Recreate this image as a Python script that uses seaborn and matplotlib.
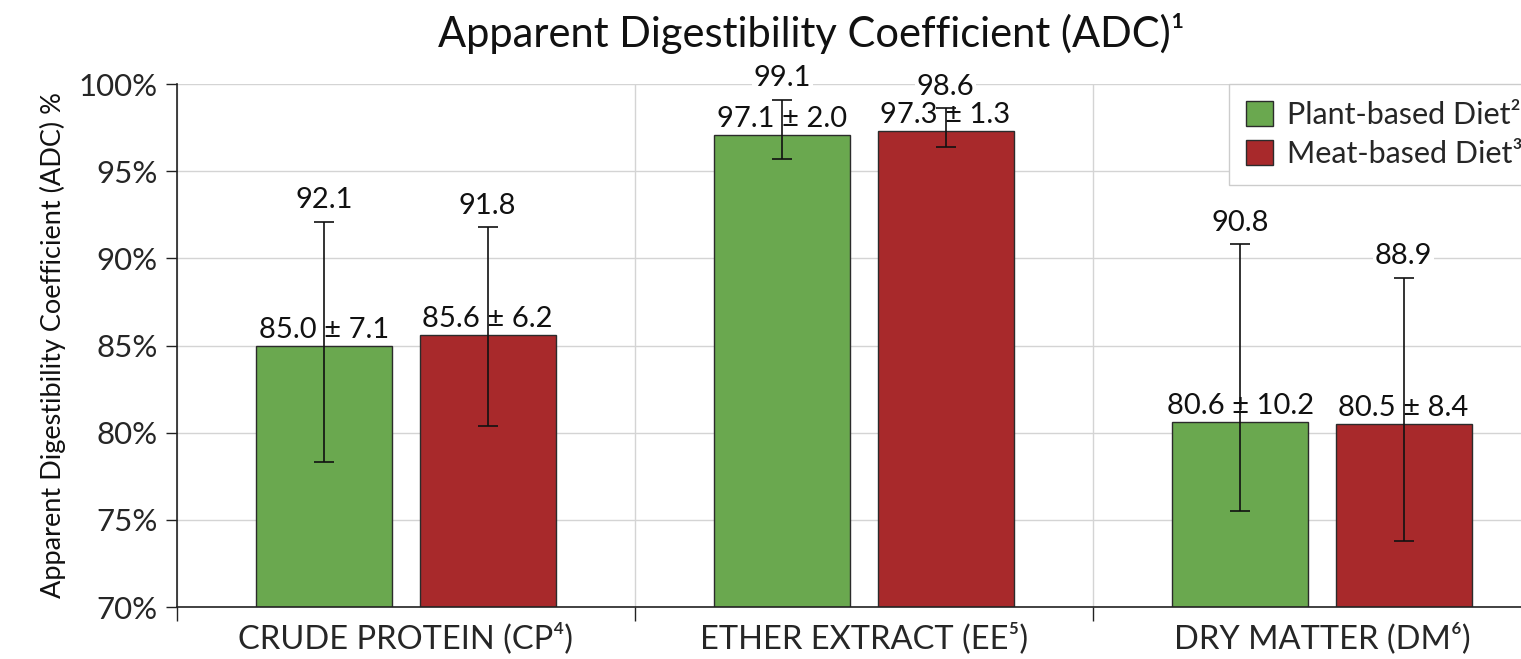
import numpy as np
import pandas as pd
import matplotlib
matplotlib.use("Agg")
import matplotlib.pyplot as plt
from matplotlib.ticker import PercentFormatter, FixedLocator
import seaborn as sns

# ---- data ----
categories = ["CRUDE PROTEIN (CP⁴)", "ETHER EXTRACT (EE⁵)", "DRY MATTER (DM⁶)"]
diets = ["Plant-based Diet²", "Meat-based Diet³"]
plant_mean = [85.0, 97.1, 80.6]
plant_sd = [7.1, 2.0, 10.2]
plant_low = [78.3, 95.7, 75.5]
meat_mean = [85.6, 97.3, 80.5]
meat_sd = [6.2, 1.3, 8.4]
meat_low = [80.4, 96.4, 73.8]
y_ticks = [70, 75, 80, 85, 90, 95, 100]

df = pd.DataFrame({
    "category": categories * 2,
    "diet": [diets[0]] * 3 + [diets[1]] * 3,
    "mean": plant_mean + meat_mean,
    "sd": plant_sd + meat_sd,
    "low": plant_low + meat_low,
})

sns.set_theme(style="white")
plt.rcParams["font.family"] = ["Lato", "DejaVu Sans"]

colors = {diets[0]: "#6aa84f", diets[1]: "#a8292b"}

fig = plt.figure(figsize=(15.21, 6.59), dpi=100)
ax = fig.add_axes([177 / 1521, 52 / 659, 1374 / 1521, 523 / 659])

sns.barplot(data=df, x="category", y="mean", hue="diet", order=categories,
            hue_order=diets, palette=colors, errorbar=None, width=0.712,
            gap=0.166, edgecolor="#2b2b2b", linewidth=1.0, saturation=1,
            ax=ax, zorder=2, legend=True)

# error bars and value labels, placed at each bar's centre
for hue_i, diet in enumerate(diets):
    sub = df[df["diet"] == diet].set_index("category").loc[categories]
    bars = ax.patches[hue_i * len(categories):(hue_i + 1) * len(categories)]
    for bar, (_, row) in zip(bars, sub.iterrows()):
        xc = bar.get_x() + bar.get_width() / 2
        m, s, lo = row["mean"], row["sd"], row["low"]
        ax.errorbar(xc, m, yerr=[[m - lo], [s]], fmt="none", ecolor="#111111",
                    elinewidth=1.2, capsize=7.5, capthick=1.2, zorder=3)
        ax.annotate(f"{m:.1f} ± {s:.1f}", (xc, m), xytext=(0, 2),
                    textcoords="offset points", ha="center", va="bottom",
                    fontsize=21, color="#111111", zorder=4)
        ax.annotate(f"{m + s:.1f}", (xc, m + s), xytext=(0, 6),
                    textcoords="offset points", ha="center", va="bottom",
                    fontsize=21, color="#111111", zorder=4,
                    bbox=dict(boxstyle="square,pad=0.05", fc="white", ec="none"))

# axes styling
ax.set_xlim(-0.5, 2.5)
ax.set_ylim(70, 100)
ax.yaxis.set_major_locator(FixedLocator(y_ticks))
ax.yaxis.set_major_formatter(PercentFormatter(decimals=0))
ax.grid(axis="y", color="#d4d4d4", linewidth=1.0, zorder=0)
ax.set_axisbelow(True)

ax.set_xticks([0, 1, 2])
ax.set_xticklabels(categories, fontsize=23.5)
ax.set_xticks([-0.5, 0.5, 1.5], minor=True)
ax.grid(axis="x", which="minor", color="#d4d4d4", linewidth=1.0, zorder=0)
ax.tick_params(axis="x", which="major", length=0, pad=11)
ax.tick_params(axis="x", which="minor", length=10, width=1.0, color="#222222",
               direction="out", bottom=True)
ax.tick_params(axis="y", length=8, width=1.0, color="#222222", direction="out",
               left=True, labelsize=22.5, pad=6)

for side in ["top", "right"]:
    ax.spines[side].set_visible(False)
for side in ["left", "bottom"]:
    ax.spines[side].set_color("#222222")
    ax.spines[side].set_linewidth(1.2)

ax.set_xlabel("")
ax.set_ylabel("Apparent Digestibility Coefficient (ADC) %", fontsize=19.5,
              color="#111111", labelpad=9)

fig.text(811 / 1521, 1 - 33 / 659, "Apparent Digestibility Coefficient (ADC)¹",
         ha="center", va="center", fontsize=30, color="#111111")

# legend
handles, labels = ax.get_legend_handles_labels()
ax.legend(handles, labels, loc="upper left", bbox_to_anchor=(1229 / 1521, 1 - 84 / 659),
          bbox_transform=fig.transFigure, borderaxespad=0, fontsize=22, frameon=True,
          fancybox=False, edgecolor="#cccccc", framealpha=1, handlelength=0.9,
          handleheight=0.9, handletextpad=0.45, borderpad=0.55, labelspacing=0.35,
          title=None)

fig.savefig("out.png", dpi=100, facecolor="white")
